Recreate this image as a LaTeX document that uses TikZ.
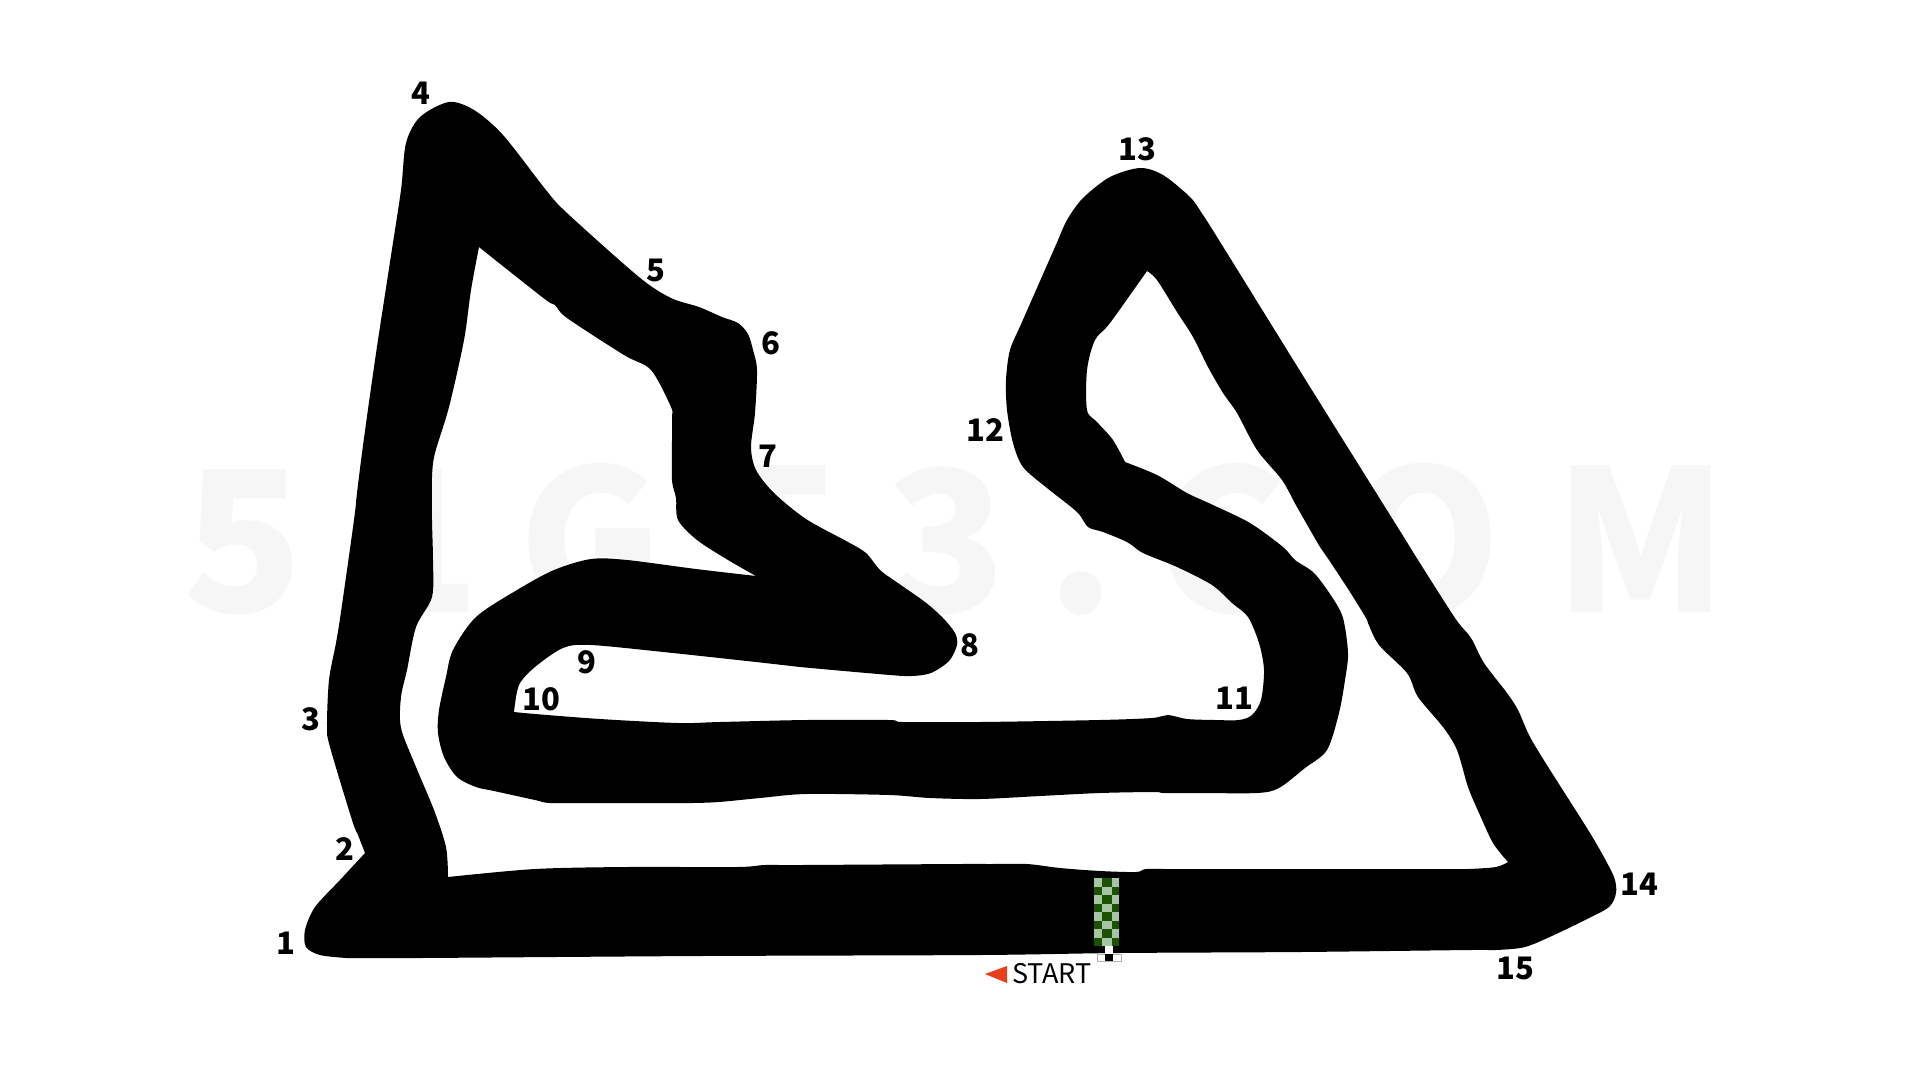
\documentclass[tikz,border=0pt]{standalone}
\usepackage{fontspec}
\newfontfamily\cjk{Noto Sans CJK SC}
\definecolor{clrMark}{HTML}{F6F6F6}
\definecolor{clrFlagDark}{HTML}{1A5200}
\definecolor{clrFlagLight}{HTML}{A6C4A6}
\definecolor{clrStart}{HTML}{E8401C}
\tikzstyle{turn_label}=[font=\cjk\bfseries\fontsize{31}{31}\selectfont, inner sep=0pt, text=black]
\tikzstyle{mark_letter}=[font=\cjk\bfseries\fontsize{197}{197}\selectfont, inner sep=0pt, anchor=base, text=clrMark]
\tikzstyle{track}=[fill=black, even odd rule]
\tikzstyle{soft}=[smooth, tension=0.5]
\begin{document}
\begin{tikzpicture}[x=1pt, y=-1pt]
	\useasboundingbox (0,0) rectangle (1920,1080);

	% watermark, under the track
	\foreach \ch/\xpos in {5/243, 1/420, G/591, T/769, 3/946, ./1081, C/1222, O/1424, M/1641}
		\node[mark_letter] (mark\xpos) at (\xpos,612) {\ch};

	% track: outer edge, then the one hole
	\fill[track]
		plot[soft] coordinates {(365,853) (358,835) (352,820) (330,747) (327,727) (329,680) (336,643) (341,612) (354,520) (357,493) (362,453) (370,395) (378,340) (390,262) (401,190) (406,143) (420,117) (449,102) (474,110) (503,135) (546,190) (567,213) (639,277) (671,298) (699,307) (722,317) (738,323) (748,334) (753,350) (757,370) (755,413) (751,447) (756,470) (774,493) (806,519) (848,542) (866,553) (880,570) (895,581) (925,602) (943,618) (955,633) (957,645) (949,661) (931,673) (912,676) (890,675) (800,667) (765,663) (673,653) (591,645) (563,648) (535,667) (519,685) (514,712)}
		-- plot[soft] coordinates {(514,712) (535,714) (600,719) (678,723) (720,722) (806,720) (889,720) (903,722) (980,722) (1100,720) (1152,718) (1168,715) (1187,719) (1215,720) (1239,720) (1252,715) (1261,700) (1264,670) (1259,643) (1248,617) (1232,603) (1212,585) (1177,567) (1143,553) (1127,542) (1103,532) (1088,527) (1077,512) (1047,488) (1023,467) (1013,443) (1007,410) (1006,380) (1010,350) (1022,322) (1055,247) (1067,220) (1083,198) (1110,177) (1140,168) (1163,175) (1190,197) (1203,215) (1222,245) (1310,387) (1400,531) (1418,560) (1455,618) (1471,638) (1484,663) (1507,693) (1518,710) (1529,735) (1545,762) (1585,825) (1600,850) (1614,877) (1616,893) (1609,907) (1585,920) (1554,935) (1525,947) (1496,950) (1470,950) (1300,952) (1118,953) (980,955) (700,956) (420,958) (370,958) (347,958) (320,955) (306,947) (305,930) (315,907) (340,880) (365,853)}
		-- cycle
		plot[soft] coordinates {(479,247) (499,263) (546,300) (555,305) (567,318) (624,355) (651,370) (671,407) (672,417) (672,440) (672,480) (676,498) (678,520) (697,540) (728,560) (756,576)}
		-- plot[soft] coordinates {(756,576) (696,569) (627,560) (591,559) (554,570) (517,590) (476,617) (453,650) (446,677) (439,710) (438,733) (444,757) (457,777) (476,787) (494,791) (535,800) (549,803) (580,803) (660,803) (692,803) (719,802) (760,798) (806,794) (889,795) (930,798) (980,799) (1040,796) (1100,793) (1154,792) (1164,793) (1200,793) (1257,793) (1279,788) (1305,768) (1327,750) (1339,713) (1345,680) (1348,653) (1343,618) (1332,597) (1314,573) (1295,560) (1283,547) (1250,523) (1213,505) (1187,493) (1157,475) (1125,462)}
		-- plot[soft] coordinates {(1125,462) (1113,440) (1097,422) (1087,410) (1087,370) (1095,340) (1110,323) (1147,271)}
		-- plot[soft] coordinates {(1147,271) (1157,280) (1177,312) (1193,337) (1208,367) (1223,393) (1237,413) (1257,450) (1282,480) (1297,507) (1320,547) (1329,560) (1350,592) (1366,618) (1368,623) (1379,645) (1407,673) (1418,697) (1443,727) (1457,750) (1468,787) (1479,813) (1493,843) (1508,862)}
		-- plot[soft] coordinates {(1508,862) (1496,867) (1468,869) (1440,869) (1300,869) (1170,869) (1146,869) (1136,872) (1100,871) (1060,868) (1027,864) (990,864) (960,864) (800,865) (765,865) (737,867) (627,867) (535,869) (448,877)}
		-- plot[soft] coordinates {(448,877) (446,847) (434,810) (416,767) (401,728) (401,697) (407,670) (416,627) (432,597) (433,560) (432,520) (432,477) (435,453) (449,407) (464,340) (471,290) (479,247)}
		-- cycle;

	% start line
	\fill[clrFlagLight] (1094,878) rectangle (1119,946);
	\foreach \row in {0,...,7} {
		\pgfmathsetmacro{\ytop}{878+8.5*\row}
		\pgfmathsetmacro{\ybot}{\ytop+8.5}
		\pgfmathtruncatemacro{\isodd}{mod(\row,2)}
		\ifnum\isodd=0
			\fill[clrFlagDark] (1101.5,\ytop) rectangle (1111.5,\ybot);
		\else
			\fill[clrFlagDark] (1094,\ytop) rectangle (1101.5,\ybot);
			\fill[clrFlagDark] (1111.5,\ytop) rectangle (1119,\ybot);
		\fi
	}
	\fill[white] (1105,946) rectangle (1113,954);
	\filldraw[fill=white, draw=black!30, line width=1pt] (1097,954) rectangle (1121,961);
	\fill[black] (1105,954) rectangle (1113,961);

	\fill[clrStart] (985,974) -- (1007,966) -- (1007,983) -- cycle;
	\node[font=\cjk\fontsize{27}{27}\selectfont, inner sep=0pt] (start) at (1052,974) {START};

	% turn numbers
	\foreach \num/\xpos/\ypos in {1/286/943, 2/345/849, 3/311/719, 4/421/93, 5/656/270, 6/771/343, 7/768/456, 8/970/645, 9/587/662, 10/541/699, 11/1234/698, 12/985/430, 13/1137/149, 14/1639/884, 15/1515/968}
		\node[turn_label] (turn\num) at (\xpos,\ypos) {\num};
\end{tikzpicture}
\end{document}
